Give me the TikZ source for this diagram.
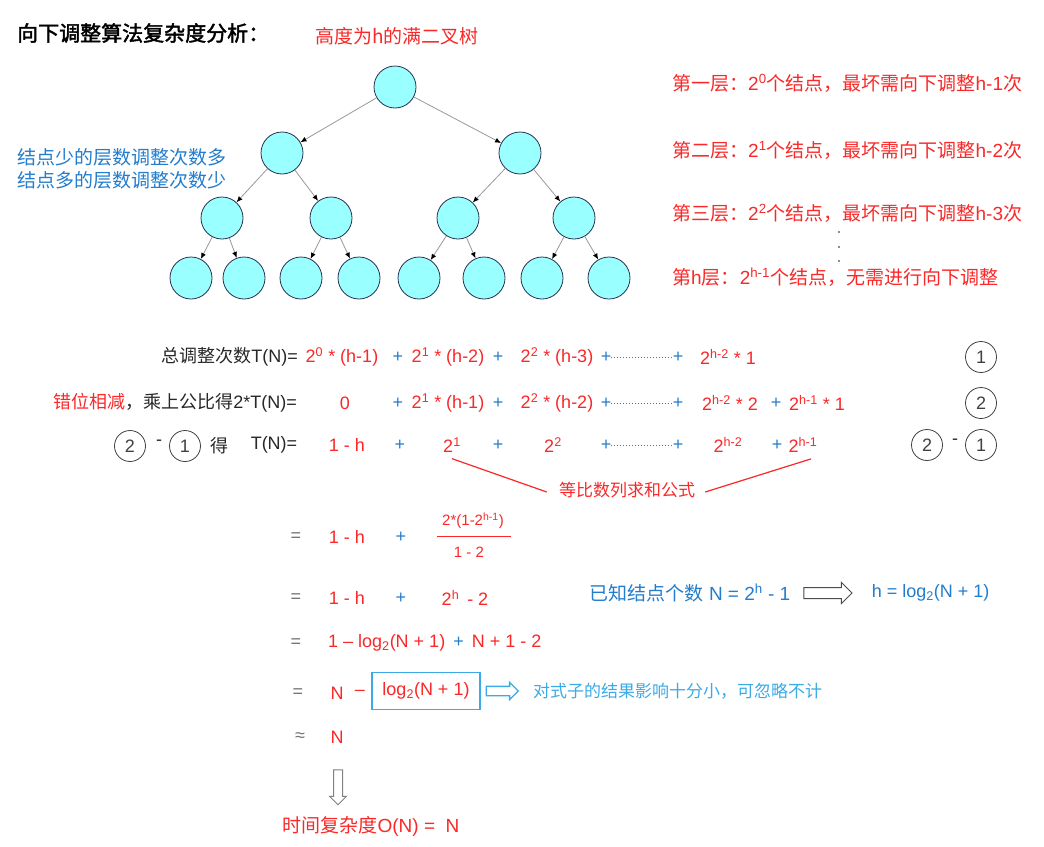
\documentclass[tikz,border=0pt]{standalone}
\usepackage{fontspec}
\setmainfont{Liberation Sans}
\newfontfamily\cjk{Noto Sans CJK SC}
\newfontfamily\titlefont[FakeBold=2]{Noto Sans CJK SC}
\usetikzlibrary{positioning,arrows.meta,shapes.arrows}

\definecolor{hred}{RGB}{250,40,40}
\definecolor{hblue}{RGB}{35,125,205}
\definecolor{lblue}{RGB}{60,170,230}
\definecolor{tcyan}{RGB}{153,255,255}
\definecolor{tedge}{RGB}{40,50,80}
\definecolor{tblack}{RGB}{40,40,40}

\begin{document}
\begin{tikzpicture}[
  x=1pt, y=-1pt,
  every node/.style={inner sep=0pt, font=\fontsize{18}{21}\selectfont, text=tblack},
  treenode/.style={circle, fill=tcyan, draw=tedge, line width=0.8pt, minimum size=42pt},
  treeedge/.style={-{Latex[length=6pt,width=5pt,color=black]}, black!40, line width=0.8pt},
  redtxt/.style={text=hred},
  bluetxt/.style={text=hblue},
  eqsign/.style={text=black!55},
  leveltxt/.style={text=hred, anchor=west, font=\fontsize{19}{23}\selectfont},
  tag/.style={circle, draw=black!75, line width=0.8pt, minimum size=31pt, text=black!75},
  dotline/.style={hblue, dotted, line width=1pt},
  fatarrow/.style={single arrow, draw=black!70, line width=1pt, inner sep=5pt, minimum height=48pt, single arrow head extend=5pt}
]

  \path[fill=white, use as bounding box] (0,0) rectangle (1044,846);

  % --- title and tree ---
  \node[anchor=west, font=\titlefont\fontsize{21}{25}\selectfont, text=black] (title) at (17,33) {向下调整算法复杂度分析：};
  \node[redtxt, font=\cjk\fontsize{19}{23}\selectfont] (treecap) at (397,36) {高度为h的满二叉树};

  \foreach \n/\x/\y in {1/395/87, 2/282/153, 3/520/153, 4/222/218, 5/331/218, 6/458/218, 7/574/218,
                        8/191/278, 9/244/278, 10/301/278, 11/359/278, 12/419/278, 13/484/278, 14/542/278, 15/609/278} {
    \node[treenode] (n\n) at (\x,\y) {};
  }
  \foreach \c in {2,...,15} {
    \pgfmathtruncatemacro{\p}{\c/2}
    \draw[treeedge] (n\p) -- (n\c);
  }

  \node[bluetxt, anchor=west, align=left, font=\cjk\fontsize{19}{23}\selectfont] (few) at (17,169) {结点少的层数调整次数多\\结点多的层数调整次数少};

  % --- per-level counts ---
  \node[leveltxt] (lv1) at (672,83) {{\cjk 第一层：}2\textsuperscript{0}{\cjk 个结点，最坏需向下调整}h-1{\cjk 次}};
  \node[leveltxt] (lv2) at (672,150) {{\cjk 第二层：}2\textsuperscript{1}{\cjk 个结点，最坏需向下调整}h-2{\cjk 次}};
  \node[leveltxt] (lv3) at (672,213) {{\cjk 第三层：}2\textsuperscript{2}{\cjk 个结点，最坏需向下调整}h-3{\cjk 次}};
  \node[leveltxt] (lvh) at (672,277) {{\cjk 第}h{\cjk 层：}2\textsuperscript{h-1}{\cjk 个结点，无需进行向下调整}};
  \foreach \y in {232,247,261} \fill[black!60] (839,\y) circle (1.1pt);

  % --- row 1 ---
  \node[anchor=east] (r1) at (298,357) {{\cjk 总调整次数}T(N)=};
  \node[redtxt] (a1) at (342,357) {2\textsuperscript{0} * (h-1)};
  \node[bluetxt] (p1a) at (398,357) {+};
  \node[redtxt] (a2) at (448,357) {2\textsuperscript{1} * (h-2)};
  \node[bluetxt] (p1b) at (498,357) {+};
  \node[redtxt] (a3) at (557,357) {2\textsuperscript{2} * (h-3)};
  \node[bluetxt] (p1c) at (606,357) {+};
  \node[bluetxt] (p1d) at (678,357) {+};
  \draw[dotline] (p1c) -- (p1d);
  \node[redtxt] (a4) at (728,357) {2\textsuperscript{h-2} * 1};
  \node[tag] (c1) at (981,357) {1};

  % --- row 2 ---
  \node[anchor=east] (r2) at (297,403) {{\cjk\color{hred}错位相减}{\cjk ，乘上公比得}2*T(N)=};
  \node[redtxt] (b0) at (345,403) {0};
  \node[bluetxt] (p2a) at (398,403) {+};
  \node[redtxt] (b1) at (448,403) {2\textsuperscript{1} * (h-1)};
  \node[bluetxt] (p2b) at (498,403) {+};
  \node[redtxt] (b2) at (557,403) {2\textsuperscript{2} * (h-2)};
  \node[bluetxt] (p2c) at (606,403) {+};
  \node[bluetxt] (p2d) at (678,403) {+};
  \draw[dotline] (p2c) -- (p2d);
  \node[redtxt] (b3) at (730,403) {2\textsuperscript{h-2} * 2};
  \node[bluetxt] (p2e) at (776,403) {+};
  \node[redtxt] (b4) at (817,403) {2\textsuperscript{h-1} * 1};
  \node[tag] (c2) at (981,403) {2};

  % --- row 3 ---
  \node[tag] (d2) at (130,446) {2};
  \node (dm) at (159,443) {-};
  \node[tag] (d1) at (185,446) {1};
  \node[font=\cjk\fontsize{18}{21}\selectfont] (de) at (219,446) {得};
  \node (r3) at (274,445) {T(N)=};
  \node[redtxt] (t0) at (347,445) {1 - h};
  \node[bluetxt] (p3a) at (400,445) {+};
  \node[redtxt] (t1) at (452,445) {2\textsuperscript{1}};
  \node[bluetxt] (p3b) at (498,445) {+};
  \node[redtxt] (t2) at (553,445) {2\textsuperscript{2}};
  \node[bluetxt] (p3c) at (606,445) {+};
  \node[bluetxt] (p3d) at (678,445) {+};
  \draw[dotline] (p3c) -- (p3d);
  \node[redtxt] (t3) at (728,445) {2\textsuperscript{h-2}};
  \node[bluetxt] (p3e) at (777,445) {+};
  \node[redtxt] (t4) at (803,445) {2\textsuperscript{h-1}};
  \node[tag] (e2) at (927,445) {2};
  \node (em) at (955,442) {-};
  \node[tag] (e1) at (981,445) {1};

  \node[redtxt, font=\cjk\fontsize{17}{20}\selectfont] (sum) at (627,490) {等比数列求和公式};
  \draw[hred, line width=1.2pt] ([yshift=-6pt]t1.south) -- ([xshift=-12pt,yshift=-2pt]sum.west);
  \draw[hred, line width=1.2pt] ([xshift=8pt,yshift=-6pt]t4.south) -- ([xshift=10pt,yshift=-2pt]sum.east);

  % --- derivation ---
  \node[eqsign] (q4) at (296,537) {=};
  \node[redtxt] (f0) at (347,537) {1 - h};
  \node[bluetxt] (p4) at (401,537) {+};
  \node[redtxt, font=\fontsize{15}{18}\selectfont] (num) at (473,521) {2*(1-2\textsuperscript{h-1})};
  \node[redtxt, font=\fontsize{15}{18}\selectfont] (den) at (469,552) {1 - 2};
  \draw[hred, line width=1pt] (437,536) -- (511,536);

  \node[eqsign] (q5) at (296,598) {=};
  \node[redtxt] (g0) at (347,598) {1 - h};
  \node[bluetxt] (p5) at (401,598) {+};
  \node[redtxt] (g1) at (465,598) {2\textsuperscript{h}\, - 2};

  \node[bluetxt, font=\fontsize{19}{23}\selectfont] (known) at (690,593) {{\cjk 已知结点个数} N = 2\textsuperscript{h} - 1};
  \node[fatarrow, right=13pt of known] (karr) {};
  \node[bluetxt, right=19pt of karr] (hval) {h = log\textsubscript{2}(N + 1)};

  \node[eqsign] (q6) at (296,643) {=};
  \node[redtxt, anchor=west] (h0) at (328,643) {1 – log\textsubscript{2}(N + 1)\, {\color{hblue}+}\, N + 1 - 2};

  \node[eqsign] (q7) at (298,693) {=};
  \node[redtxt] (k0) at (337,693) {N};
  \node[redtxt] (k1) at (360,693) {–};
  \node[redtxt, draw=lblue, line width=1.2pt, minimum width=108pt, minimum height=37pt] (logbox) at (426,691) {log\textsubscript{2}(N + 1)};
  \node[single arrow, draw=lblue, line width=1.3pt, inner sep=4pt, minimum height=32pt, single arrow head extend=4pt, right=5pt of logbox] (warr) {};
  \node[anchor=west, text=lblue, font=\cjk\fontsize{17}{20}\selectfont] (note) at (533,691) {对式子的结果影响十分小，可忽略不计};

  \node[eqsign] (q8) at (300,737) {≈};
  \node[redtxt] (m0) at (337,737) {N};

  \node[single arrow, draw=black!50, line width=1pt, inner sep=4pt, shape border rotate=270, minimum height=35pt, single arrow head extend=4pt] (darr) at (338,785) {};
  \node[redtxt, font=\fontsize{19}{23}\selectfont] (final) at (371,826) {{\cjk 时间复杂度}O(N) =\ \ N};

\end{tikzpicture}
\end{document}
